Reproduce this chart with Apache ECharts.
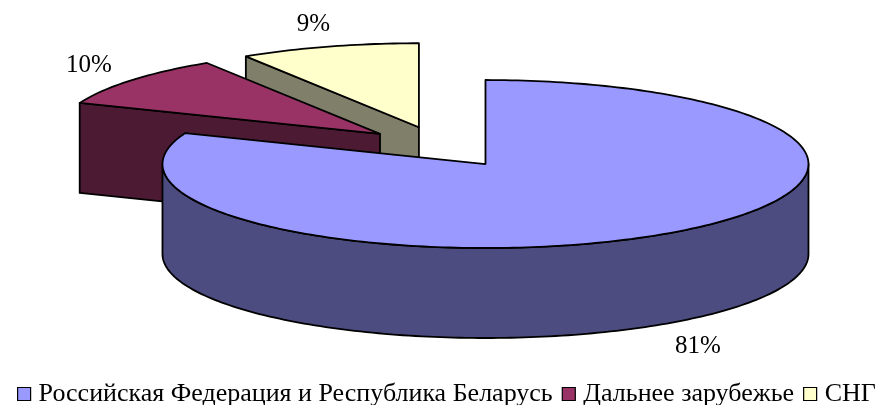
<!DOCTYPE html>
<html lang="ru">
<head>
    <meta charset="UTF-8">
    <title>Структура</title>
    <script src="https://cdn.jsdelivr.net/npm/echarts@6/dist/echarts.min.js"></script>
    <style>
        body {
            padding: 0;
            margin: 0;
            border: none;
            background: #fff;
        }
    </style>
</head>
<body>
<div style="width: 889px;height: 405px;" id="ec"></div>
<script>
    // данные
    const categories = ['Российская Федерация и Республика Беларусь', 'Дальнее зарубежье', 'СНГ'];
    const shares = [81, 10, 9];
    const labels = ['81%', '10%', '9%'];
    const topColors = ['#9999FF', '#993366', '#FFFFCC'];
    const sideColors = ['#4C4C80', '#4D1A33', '#80806A'];

    // геометрия "объёмного" круга
    const CX = 441, CY = 147, RX = 323, RY = 84, DEPTH = 90, EXPLODE = 0.245;
    const FONT = '"Liberation Serif", "Times New Roman", serif';

    function rim(cx, cy, a, k) {
        return [cx + RX * k * Math.sin(a), cy - RY * k * Math.cos(a)];
    }
    function arc(cx, cy, a0, a1, dy) {
        let pts = [];
        let n = Math.max(2, Math.ceil(Math.abs(a1 - a0) / 0.02));
        for (let i = 0; i <= n; i++) {
            let a = a0 + (a1 - a0) * i / n;
            let p = rim(cx, cy, a, 1);
            pts.push([p[0], p[1] + dy]);
        }
        return pts;
    }
    function face(points, fill) {
        return {
            type: 'polygon',
            shape: {points},
            style: {fill, stroke: '#000', lineWidth: 1.8, lineJoin: 'round'}
        };
    }

    function renderSlice(idx) {
        return function (params, api) {
            let total = shares.reduce((s, v) => s + v, 0);
            let before = shares.slice(0, idx).reduce((s, v) => s + v, 0);
            let a0 = before / total * Math.PI * 2;
            let a1 = (before + shares[idx]) / total * Math.PI * 2;
            let mid = (a0 + a1) / 2;
            let apex = rim(CX, CY, mid, EXPLODE);
            let cx = apex[0], cy = apex[1];
            let children = [];
            // наружная стенка (только передняя половина)
            let lo = Math.max(a0, Math.PI / 2), hi = Math.min(a1, Math.PI * 3 / 2);
            if (lo < hi) {
                let topArc = arc(cx, cy, lo, hi, 0);
                let botArc = arc(cx, cy, hi, lo, DEPTH);
                children.push(face(topArc.concat(botArc), sideColors[idx]));
            }
            // радиальные грани
            if (Math.sin(a0) < -1e-6) {
                let p = rim(cx, cy, a0, 1);
                children.push(face([[cx, cy], p, [p[0], p[1] + DEPTH], [cx, cy + DEPTH]], sideColors[idx]));
            }
            if (Math.sin(a1) > 1e-6) {
                let p = rim(cx, cy, a1, 1);
                children.push(face([[cx, cy], p, [p[0], p[1] + DEPTH], [cx, cy + DEPTH]], sideColors[idx]));
            }
            // верх
            children.push(face([[cx, cy]].concat(arc(cx, cy, a0, a1, 0)), topColors[idx]));
            // подпись
            let lx = cx + RX * 1.17 * Math.sin(mid);
            let ly = cy - RY * 1.28 * Math.cos(mid) + (Math.cos(mid) < 0 ? DEPTH + 3 : 0);
            children.push({
                type: 'text',
                x: lx, y: ly,
                style: {
                    text: labels[idx],
                    fill: '#000',
                    font: '25px ' + FONT,
                    align: 'center',
                    verticalAlign: 'middle'
                }
            });
            return {type: 'group', children};
        };
    }

    let ec = echarts.init(document.getElementById('ec'));
    let option = {
        animation: false,
        legend: {
            left: 12,
            top: 376,
            icon: 'rect',
            itemWidth: 13,
            itemHeight: 13,
            itemGap: 9,
            itemStyle: {borderColor: '#000', borderWidth: 1.2},
            textStyle: {
                fontFamily: FONT,
                fontSize: 26,
                color: '#000',
                padding: [0, 0, 0, 3]
            },
            data: categories
        },
        series: categories.map((name, i) => ({
            type: 'custom',
            name,
            coordinateSystem: 'none',
            z: 10 - i,
            silent: true,
            itemStyle: {color: topColors[i]},
            data: [[i]],
            renderItem: renderSlice(i)
        }))
    };
    ec.setOption(option);
</script>
</body>
</html>
